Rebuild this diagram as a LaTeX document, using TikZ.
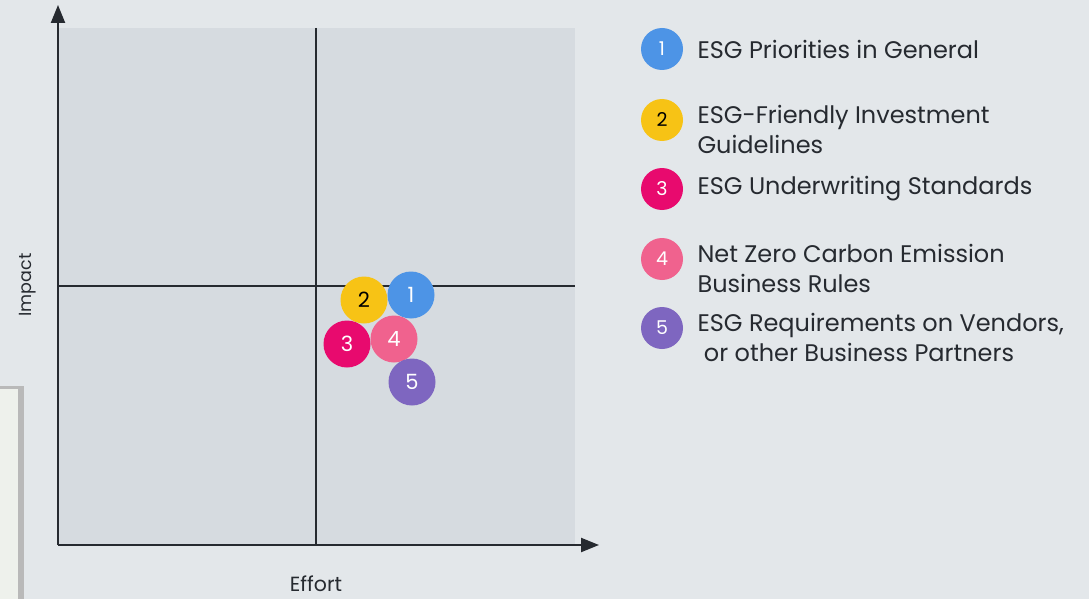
\documentclass[tikz,border=0pt]{standalone}
\usepackage{fontspec}
\setmainfont{Poppins}
\usetikzlibrary{positioning, arrows.meta}
\definecolor{esgblue}{HTML}{4D94E6}
\definecolor{esgyellow}{HTML}{F7C315}
\definecolor{esgmagenta}{HTML}{E80A6E}
\definecolor{esgpink}{HTML}{F0628E}
\definecolor{esgpurple}{HTML}{7E66C0}
\definecolor{esgbg}{HTML}{E3E7EA}
\definecolor{esgfield}{HTML}{D6DBE0}
\definecolor{esgink}{HTML}{262A30}
\definecolor{esgpanel}{HTML}{EEF1EC}

\begin{document}
\begin{tikzpicture}[x=1pt, y=-1pt,
        dot/.style={circle, minimum size=47pt, inner sep=0pt, font=\fontsize{21}{21}\selectfont, text=white},
        keydot/.style={circle, minimum size=42pt, inner sep=0pt, font=\fontsize{19}{19}\selectfont, text=white},
        keytext/.style={anchor=west, align=left, text=esgink, font=\fontsize{24}{30}\selectfont},
        axis/.style={esgink, line width=2.2pt, -{Triangle[length=18pt, width=14pt]}},
        divider/.style={esgink, line width=1.3pt}]
      % background and side panel
      \fill[esgbg] (0,0) rectangle (1089,599);
      \fill[gray!55] (0,386) rectangle (24,599);
      \fill[esgpanel] (0,389) rectangle (18,599);
      \useasboundingbox (0,0) rectangle (1089,599);

      % quadrant field
      \fill[esgfield] (59,28) rectangle (575,545);
      \coordinate (origin) at (58,545);
      \coordinate (ytip) at (58,5);
      \coordinate (xtip) at (599,545);
      \coordinate (vtop) at (316,28);
      \coordinate (vbot) at (316,545);
      \coordinate (hleft) at (58,286);
      \coordinate (hright) at (575,286);
      \draw[divider] (vtop) -- (vbot);
      \draw[divider] (hleft) -- (hright);
      \draw[axis] (origin) -- (ytip);
      \draw[axis] (origin) -- (xtip);
      \node[rotate=90, text=esgink, font=\fontsize{17.5}{17.5}\selectfont] (impact) at (28,285) {Impact};
      \node[text=esgink, font=\fontsize{20.5}{20.5}\selectfont] (effort) at (316,584) {Effort};

      % plotted items
      \node[dot, fill=esgyellow, text=black] (p2) at (364,300) {2};
      \node[dot, fill=esgblue] (p1) at (411,295) {1};
      \node[dot, fill=esgmagenta] (p3) at (347,344) {3};
      \node[dot, fill=esgpink] (p4) at (394,339) {4};
      \node[dot, fill=esgpurple] (p5) at (412,382) {5};

      % legend
      \node[keydot, fill=esgblue] (k1) at (662,49) {1};
      \node[keydot, fill=esgyellow, text=black] (k2) at (662,120) {2};
      \node[keydot, fill=esgmagenta] (k3) at (662,189) {3};
      \node[keydot, fill=esgpink] (k4) at (662,259) {4};
      \node[keydot, fill=esgpurple] (k5) at (662,328) {5};
      \node[keytext] (t1) at (694,49) {ESG Priorities in General};
      \node[keytext, anchor=north west] (t2) at (694,102) {ESG-Friendly Investment\\Guidelines};
      \node[keytext] (t3) at (694,189) {ESG Underwriting Standards};
      \node[keytext, anchor=north west] (t4) at (694,241) {Net Zero Carbon Emission\\Business Rules};
      \node[keytext, anchor=north west] (t5) at (694,310) {ESG Requirements on Vendors,\\\ or other Business Partners};
    \end{tikzpicture}
\end{document}
